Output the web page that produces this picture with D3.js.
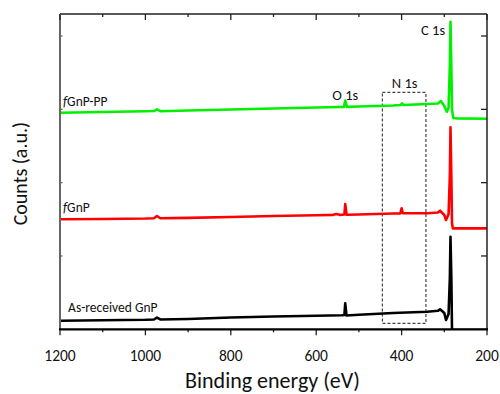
<!DOCTYPE html>
<html>
<head>
<meta charset="utf-8">
<script src="https://cdn.jsdelivr.net/npm/d3@7"></script>
<style>
  body { margin: 0; background: #fff; }
  svg { display: block; font-family: Carlito, Lato, "Open Sans", sans-serif; }
</style>
</head>
<body>
<div id="chart"></div>
<script>
// binding energy (eV) and counts (a.u.)
const energyGnP = [1200, 1100, 1000, 980, 973, 965, 900, 800, 700, 600, 540, 534, 532, 529, 500, 420, 340, 315, 310, 300, 296, 290, 287, 285.5, 283.5, 282, 280, 250, 200];
const countsGnP = [0.117, 0.123, 0.130, 0.134, 0.160, 0.134, 0.140, 0.161, 0.175, 0.184, 0.191, 0.195, 0.355, 0.188, 0.198, 0.222, 0.240, 0.252, 0.273, 0.222, 0.127, 0.210, 0.70, 1.263, 0.70, 0.0, -0.01, -0.01, -0.01];

const energyF = [1200, 1100, 1000, 980, 973, 965, 900, 800, 700, 600, 560, 553, 545, 534, 532, 529, 500, 420, 403, 400, 397, 340, 315, 310, 300, 296, 290, 287, 285.5, 283.5, 282, 280, 250, 200];
const countsF = [1.500, 1.504, 1.511, 1.515, 1.545, 1.514, 1.520, 1.531, 1.545, 1.555, 1.561, 1.572, 1.561, 1.565, 1.709, 1.562, 1.565, 1.579, 1.581, 1.650, 1.582, 1.582, 1.593, 1.617, 1.559, 1.491, 1.570, 2.10, 2.755, 2.10, 1.45, 1.377, 1.377, 1.377];

const energyFPP = [1200, 1100, 1000, 980, 973, 965, 900, 800, 700, 600, 545, 535, 532, 528, 500, 420, 402, 399, 396, 340, 315, 308, 300, 294, 290, 287, 285.5, 283.5, 282, 279, 270, 200];
const countsFPP = [2.954, 2.963, 2.973, 2.977, 3.000, 2.974, 2.984, 2.997, 3.011, 3.025, 3.031, 3.033, 3.120, 3.033, 3.038, 3.052, 3.059, 3.082, 3.059, 3.072, 3.079, 3.113, 3.045, 2.967, 3.018, 3.60, 4.195, 3.60, 3.00, 2.881, 2.877, 2.871];

const seriesNames = ["As-received GnP", "fGnP", "fGnP-PP"];
const seriesColors = ["#000000", "#ff0000", "#00f000"];

// N 1s region box (eV range, counts range)
const boxEnergy = [445, 343];
const boxCounts = [0.08, 3.23];

const peakNames = ["C 1s", "O 1s", "N 1s"];
const xTicks = [1200, 1000, 800, 600, 400, 200];
const xMinor = [1100, 900, 700, 500, 300];
const yTicks = [1, 2, 3, 4];

const width = 500, height = 394;
const margin = { top: 14, right: 13, bottom: 64.7, left: 60 };

const x = d3.scaleLinear().domain([1200, 200]).range([margin.left, width - margin.right]);
const y = d3.scaleLinear().domain([0, 4.3]).range([height - margin.bottom, margin.top]);

const svg = d3.select('#chart').append('svg')
  .attr('width', width)
  .attr('height', height);

svg.append('clipPath').attr('id', 'clip')
  .append('rect')
  .attr('x', margin.left).attr('y', margin.top)
  .attr('width', x(200) - x(1200)).attr('height', y(0) - y(4.3));

// dashed N 1s box
svg.append('rect')
  .attr('x', x(boxEnergy[0]))
  .attr('y', y(boxCounts[1]))
  .attr('width', x(boxEnergy[1]) - x(boxEnergy[0]))
  .attr('height', y(boxCounts[0]) - y(boxCounts[1]))
  .attr('fill', 'none')
  .attr('stroke', '#444')
  .attr('stroke-width', 1.2)
  .attr('stroke-dasharray', '3,2');

const line = d3.line().x(d => x(d[0])).y(d => y(d[1]));
const series = [
  d3.zip(energyGnP, countsGnP),
  d3.zip(energyF, countsF),
  d3.zip(energyFPP, countsFPP)
];

svg.append('g').attr('clip-path', 'url(#clip)')
  .selectAll('path')
  .data(series)
  .join('path')
  .attr('d', line)
  .attr('fill', 'none')
  .attr('stroke', (d, i) => seriesColors[i])
  .attr('stroke-width', 2.6)
  .attr('stroke-linejoin', 'round');

// axes
const x0 = x(1200), x1 = x(200), y0 = y(0), y1 = y(4.3);

svg.append('line').attr('x1', x0).attr('x2', x1).attr('y1', y1).attr('y2', y1)
  .attr('stroke', '#222').attr('stroke-width', 1.5);
svg.append('line').attr('x1', x0).attr('x2', x0).attr('y1', y1).attr('y2', y0)
  .attr('stroke', '#666').attr('stroke-width', 2);
svg.append('line').attr('x1', x1).attr('x2', x1).attr('y1', y1).attr('y2', y0)
  .attr('stroke', '#222').attr('stroke-width', 1.5);

const ticks = svg.append('g').attr('stroke', '#222').attr('stroke-width', 1.3);
xTicks.forEach(v => {
  ticks.append('line').attr('x1', x(v)).attr('x2', x(v)).attr('y1', y1).attr('y2', y1 + 6);
  ticks.append('line').attr('x1', x(v)).attr('x2', x(v)).attr('y1', y0).attr('y2', y0 + 6);
});
xMinor.forEach(v => {
  ticks.append('line').attr('x1', x(v)).attr('x2', x(v)).attr('y1', y1).attr('y2', y1 + 3);
  ticks.append('line').attr('x1', x(v)).attr('x2', x(v)).attr('y1', y0).attr('y2', y0 + 3);
});
yTicks.forEach(v => {
  ticks.append('line').attr('x1', x0).attr('x2', x0 + 2.5).attr('y1', y(v)).attr('y2', y(v)).attr('stroke', '#666');
  ticks.append('line').attr('x1', x1).attr('x2', x1 - 6).attr('y1', y(v)).attr('y2', y(v));
});

svg.append('line').attr('x1', x0 - 1).attr('x2', x1 + 1).attr('y1', y0).attr('y2', y0)
  .attr('stroke', '#000').attr('stroke-width', 2.2);

svg.append('g')
  .selectAll('text')
  .data(xTicks)
  .join('text')
  .attr('x', d => x(d))
  .attr('y', y0 + 32)
  .attr('text-anchor', 'middle')
  .attr('font-size', 15.5)
  .attr('fill', '#111')
  .text(d => d);

svg.append('text')
  .attr('x', (x0 + x1) / 2 - 1)
  .attr('y', 388)
  .attr('text-anchor', 'middle')
  .attr('font-size', 22)
  .attr('fill', '#111')
  .text('Binding energy (eV)');

svg.append('text')
  .attr('transform', `translate(27,${(y0 + y1) / 2 + 2}) rotate(-90)`)
  .attr('text-anchor', 'middle')
  .attr('font-size', 20)
  .attr('fill', '#111')
  .text('Counts (a.u.)');

// series labels
const labelPos = [[1181, 0.24], [1193, 1.60], [1193, 3.05]];
const labels = svg.append('g').attr('font-size', 13.5).attr('fill', '#111');
labelPos.forEach((p, i) => {
  const t = labels.append('text').attr('x', x(p[0])).attr('y', y(p[1]));
  const name = seriesNames[i];
  if (name.startsWith('f')) {
    t.append('tspan').attr('font-style', 'italic').text('f');
    t.append('tspan').text(name.slice(1));
  } else {
    t.text(name);
  }
});

// peak labels
const peakPos = [[298, 4.013, 'end'], [532, 3.13, 'middle'], [393, 3.29, 'middle']];
peakPos.forEach((p, i) => {
  svg.append('text')
    .attr('x', x(p[0]))
    .attr('y', y(p[1]))
    .attr('text-anchor', p[2])
    .attr('font-size', 14.5)
    .attr('fill', '#111')
    .text(peakNames[i]);
});
</script>
</body>
</html>
